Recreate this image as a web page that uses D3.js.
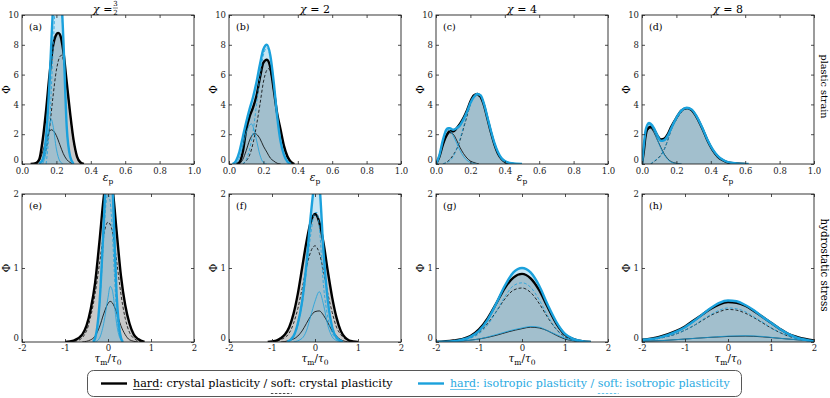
<!DOCTYPE html>
<html lang="en">
<head>
<meta charset="UTF-8">
<title></title>
<script src="https://d3js.org/d3.v7.min.js"></script>
<style>
body { margin: 0; background: #fff; }
text { font-family: "DejaVu Serif", serif; }
</style>
</head>
<body>
<script>

var W = 830, H = 398;
var blue = "#1ba1dc";
var lightBlueText = "#2aaae2";

// column titles (chi values) and panel tags
var chiLabels = ["3/2", "2", "4", "8"];
var tags = ["(a)", "(b)", "(c)", "(d)", "(e)", "(f)", "(g)", "(h)"];
var rowLabels = ["plastic strain", "hydrostatic stress"];

// ticks
var strainXTicks = [0, 0.2, 0.4, 0.6, 0.8, 1.0];
var strainYTicks = [0, 2, 4, 6, 8, 10];
var stressXTicks = [-2, -1, 0, 1, 2];
var stressYTicks = [0, 1, 2];

// ---- plastic strain distributions [eps_p, Phi] ----
// (a) chi = 3/2
var aCpAll   = [[0.05,0],[0.08,0.05],[0.10,0.3],[0.12,1.6],[0.14,3.6],[0.16,6.0],[0.18,7.9],[0.20,8.7],[0.21,8.8],[0.22,8.7],[0.24,7.6],[0.26,5.5],[0.28,3.4],[0.30,1.6],[0.32,0.5],[0.34,0.1],[0.36,0]];
var aCpHard  = [[0.08,0],[0.10,0.2],[0.12,0.8],[0.14,1.6],[0.16,2.2],[0.17,2.3],[0.18,2.25],[0.20,1.9],[0.22,1.3],[0.24,0.7],[0.26,0.3],[0.28,0.1],[0.30,0]];
var aCpSoft  = [[0.10,0],[0.12,0.3],[0.14,1.0],[0.16,2.4],[0.18,4.5],[0.20,6.3],[0.22,7.2],[0.23,7.3],[0.24,7.0],[0.26,5.3],[0.28,3.3],[0.30,1.5],[0.32,0.5],[0.34,0.1],[0.36,0]];
var aIsoAll  = [[0.10,0],[0.12,0.3],[0.14,1.8],[0.16,5.5],[0.18,10.5],[0.20,13.5],[0.21,13.8],[0.22,13],[0.24,8.5],[0.26,2.5],[0.28,0.5],[0.30,0]];
var aIsoHard = [[0.12,0],[0.14,0.8],[0.16,2.6],[0.17,3.0],[0.18,2.6],[0.20,1.0],[0.22,0.2],[0.24,0]];
var aIsoSoft = [[0.14,0],[0.16,2.5],[0.18,7.5],[0.20,12],[0.21,12.5],[0.22,12],[0.24,8.3],[0.26,2.5],[0.28,0.5],[0.30,0]];
// (b) chi = 2
var bCpAll   = [[0.04,0],[0.06,0.1],[0.08,0.8],[0.10,2.3],[0.12,3.2],[0.14,3.8],[0.16,4.6],[0.18,5.8],[0.20,6.8],[0.22,7.0],[0.24,6.5],[0.26,5.0],[0.28,3.4],[0.30,2.3],[0.32,1.2],[0.34,0.5],[0.36,0.15],[0.38,0]];
var bCpHard  = [[0.06,0],[0.08,0.3],[0.10,0.9],[0.12,1.6],[0.14,2.0],[0.15,2.05],[0.16,2.0],[0.18,1.7],[0.20,1.2],[0.22,0.8],[0.24,0.4],[0.26,0.2],[0.28,0.05],[0.30,0]];
var bCpSoft  = [[0.08,0],[0.10,0.2],[0.12,0.6],[0.14,1.4],[0.16,2.6],[0.18,4.0],[0.20,5.5],[0.22,6.3],[0.23,6.4],[0.24,6.2],[0.26,4.9],[0.28,3.3],[0.30,2.1],[0.32,1.1],[0.34,0.4],[0.36,0.1],[0.38,0]];
var bIsoAll  = [[0.02,0],[0.04,0.2],[0.06,0.8],[0.08,1.8],[0.10,2.8],[0.12,3.7],[0.14,4.5],[0.16,5.5],[0.18,6.7],[0.20,7.7],[0.22,8.0],[0.24,7.3],[0.26,5.5],[0.28,3.2],[0.30,1.5],[0.32,0.6],[0.34,0.15],[0.36,0]];
var bIsoHard = [[0.04,0],[0.06,0.4],[0.08,1.2],[0.10,2.1],[0.12,2.6],[0.13,2.7],[0.14,2.5],[0.16,1.6],[0.18,0.6],[0.20,0.1],[0.22,0]];
var bIsoSoft = [[0.08,0],[0.10,0.3],[0.12,1.0],[0.14,2.2],[0.16,4.0],[0.18,5.9],[0.20,7.3],[0.22,7.8],[0.24,7.2],[0.26,5.5],[0.28,3.2],[0.30,1.5],[0.32,0.6],[0.34,0.15],[0.36,0]];
// (c) chi = 4
var cCpAll   = [[0.00,0],[0.02,0.5],[0.04,1.3],[0.06,1.9],[0.08,2.2],[0.10,2.2],[0.12,2.4],[0.14,2.7],[0.16,3.1],[0.18,3.6],[0.20,4.2],[0.22,4.6],[0.24,4.7],[0.26,4.5],[0.28,3.9],[0.30,3.0],[0.32,2.1],[0.34,1.3],[0.36,0.7],[0.38,0.35],[0.40,0.15],[0.42,0.05],[0.45,0]];
var cCpHard  = [[0.00,0],[0.02,0.5],[0.04,1.3],[0.06,1.8],[0.08,2.1],[0.10,2.0],[0.12,1.6],[0.14,1.1],[0.16,0.7],[0.18,0.4],[0.20,0.2],[0.22,0.1],[0.25,0]];
var cCpSoft  = [[0.04,0],[0.06,0.1],[0.08,0.3],[0.10,0.6],[0.12,1.0],[0.14,1.6],[0.16,2.4],[0.18,3.2],[0.20,4.0],[0.22,4.5],[0.24,4.6],[0.26,4.4],[0.28,3.9],[0.30,3.0],[0.32,2.1],[0.34,1.3],[0.36,0.7],[0.38,0.35],[0.40,0.15],[0.42,0.05],[0.45,0]];
var cIsoAll  = [[0.00,0],[0.02,0.6],[0.04,1.6],[0.06,2.3],[0.07,2.4],[0.08,2.4],[0.10,2.3],[0.12,2.4],[0.14,2.6],[0.16,3.0],[0.18,3.5],[0.20,4.1],[0.22,4.5],[0.24,4.7],[0.26,4.6],[0.28,4.0],[0.30,3.1],[0.32,2.2],[0.34,1.4],[0.36,0.8],[0.38,0.4],[0.40,0.2],[0.44,0.05],[0.50,0]];
var cIsoHard = [[0.00,0],[0.02,0.6],[0.04,1.6],[0.06,2.2],[0.07,2.3],[0.08,2.25],[0.10,1.9],[0.12,1.4],[0.14,0.9],[0.16,0.5],[0.18,0.25],[0.20,0.1],[0.24,0]];
var cIsoSoft = [[0.04,0],[0.06,0.1],[0.08,0.2],[0.10,0.5],[0.12,1.0],[0.14,1.7],[0.16,2.5],[0.18,3.3],[0.20,4.0],[0.22,4.5],[0.24,4.7],[0.26,4.6],[0.28,4.0],[0.30,3.1],[0.32,2.2],[0.34,1.4],[0.36,0.8],[0.38,0.4],[0.40,0.2],[0.44,0.05],[0.50,0]];
// (d) chi = 8
var dCpAll   = [[0.00,0],[0.01,0.8],[0.02,1.8],[0.03,2.3],[0.05,2.5],[0.07,2.3],[0.09,1.9],[0.11,1.65],[0.13,1.7],[0.15,2.0],[0.17,2.5],[0.20,3.1],[0.23,3.6],[0.26,3.75],[0.29,3.6],[0.32,3.1],[0.35,2.4],[0.38,1.6],[0.41,0.95],[0.44,0.5],[0.47,0.25],[0.50,0.1],[0.55,0.03],[0.60,0]];
var dCpHard  = [[0.00,0],[0.01,0.8],[0.02,1.8],[0.03,2.25],[0.05,2.4],[0.07,2.1],[0.09,1.6],[0.11,1.1],[0.13,0.65],[0.15,0.35],[0.17,0.15],[0.20,0.05],[0.23,0]];
var dCpSoft  = [[0.05,0],[0.07,0.15],[0.09,0.35],[0.11,0.6],[0.13,1.0],[0.15,1.6],[0.17,2.3],[0.20,3.0],[0.23,3.5],[0.26,3.7],[0.29,3.6],[0.32,3.1],[0.35,2.4],[0.38,1.6],[0.41,0.95],[0.44,0.5],[0.47,0.25],[0.50,0.1],[0.55,0.03],[0.60,0]];
var dIsoAll  = [[0.00,0],[0.01,1.2],[0.02,2.2],[0.03,2.6],[0.04,2.75],[0.05,2.7],[0.07,2.4],[0.09,1.9],[0.11,1.55],[0.13,1.6],[0.15,1.9],[0.17,2.4],[0.20,3.1],[0.23,3.6],[0.26,3.78],[0.29,3.65],[0.32,3.15],[0.35,2.45],[0.38,1.65],[0.41,1.0],[0.44,0.55],[0.47,0.28],[0.50,0.12],[0.55,0.04],[0.62,0]];
var dIsoHard = [[0.00,0],[0.01,1.2],[0.02,2.2],[0.03,2.55],[0.04,2.65],[0.05,2.6],[0.07,2.2],[0.09,1.6],[0.11,1.05],[0.13,0.6],[0.15,0.3],[0.17,0.12],[0.20,0.03],[0.23,0]];
var dIsoSoft = [[0.05,0],[0.07,0.2],[0.09,0.35],[0.11,0.55],[0.13,1.0],[0.15,1.6],[0.17,2.3],[0.20,3.05],[0.23,3.55],[0.26,3.75],[0.29,3.65],[0.32,3.15],[0.35,2.45],[0.38,1.65],[0.41,1.0],[0.44,0.55],[0.47,0.28],[0.50,0.12],[0.55,0.04],[0.62,0]];

// ---- hydrostatic stress distributions [tau_m/tau_0, Phi] ----
// (e) chi = 3/2
var eCpAll   = [[-1.0,0],[-0.8,0.02],[-0.6,0.1],[-0.5,0.22],[-0.4,0.45],[-0.3,0.8],[-0.2,1.35],[-0.1,1.95],[0.0,2.3],[0.1,2.1],[0.2,1.5],[0.3,0.9],[0.4,0.5],[0.5,0.25],[0.6,0.1],[0.7,0.04],[0.85,0]];
var eCpHard  = [[-0.6,0],[-0.4,0.03],[-0.3,0.08],[-0.2,0.2],[-0.1,0.38],[0.0,0.52],[0.05,0.55],[0.1,0.53],[0.2,0.4],[0.3,0.22],[0.4,0.1],[0.5,0.03],[0.7,0]];
var eCpSoft  = [[-0.9,0],[-0.7,0.02],[-0.5,0.15],[-0.4,0.35],[-0.3,0.65],[-0.2,1.05],[-0.1,1.45],[0.0,1.62],[0.1,1.5],[0.2,1.1],[0.3,0.65],[0.4,0.32],[0.5,0.13],[0.6,0.05],[0.8,0]];
var eIsoAll  = [[-0.35,0],[-0.3,0.05],[-0.25,0.2],[-0.2,0.5],[-0.15,1.0],[-0.1,1.6],[-0.05,2.2],[0.0,2.55],[0.05,2.6],[0.1,2.2],[0.15,1.4],[0.2,0.65],[0.25,0.25],[0.3,0.06],[0.35,0]];
var eIsoHard = [[-0.3,0],[-0.2,0.05],[-0.1,0.25],[0.0,0.6],[0.05,0.75],[0.1,0.7],[0.15,0.5],[0.2,0.25],[0.25,0.1],[0.3,0.03],[0.35,0]];
var eIsoSoft = [[-0.35,0],[-0.3,0.05],[-0.25,0.2],[-0.2,0.45],[-0.15,0.9],[-0.1,1.4],[-0.05,1.85],[0.0,2.0],[0.05,1.9],[0.1,1.5],[0.15,0.9],[0.2,0.4],[0.25,0.15],[0.3,0.03],[0.35,0]];
// (f) chi = 2
var fCpAll   = [[-1.1,0],[-0.9,0.02],[-0.8,0.05],[-0.7,0.1],[-0.6,0.2],[-0.5,0.38],[-0.4,0.65],[-0.3,1.0],[-0.2,1.35],[-0.1,1.62],[0.0,1.73],[0.1,1.62],[0.2,1.33],[0.3,0.95],[0.4,0.6],[0.5,0.33],[0.6,0.15],[0.7,0.06],[0.8,0.02],[1.0,0]];
var fCpHard  = [[-0.8,0],[-0.6,0.02],[-0.4,0.08],[-0.3,0.15],[-0.2,0.25],[-0.1,0.35],[0.0,0.41],[0.1,0.42],[0.2,0.36],[0.3,0.26],[0.4,0.15],[0.5,0.08],[0.6,0.03],[0.8,0]];
var fCpSoft  = [[-1.0,0],[-0.8,0.03],[-0.6,0.12],[-0.5,0.25],[-0.4,0.45],[-0.3,0.72],[-0.2,1.0],[-0.1,1.22],[0.0,1.3],[0.1,1.2],[0.2,0.95],[0.3,0.65],[0.4,0.4],[0.5,0.2],[0.6,0.1],[0.8,0.02],[1.0,0]];
var fIsoAll  = [[-0.65,0],[-0.5,0.08],[-0.4,0.25],[-0.3,0.55],[-0.2,1.05],[-0.1,1.7],[0.0,2.2],[0.05,2.3],[0.1,2.15],[0.2,1.2],[0.3,0.55],[0.4,0.2],[0.5,0.06],[0.65,0]];
var fIsoHard = [[-0.5,0],[-0.3,0.05],[-0.2,0.15],[-0.1,0.35],[0.0,0.55],[0.1,0.68],[0.2,0.5],[0.3,0.22],[0.4,0.07],[0.5,0.02],[0.6,0]];
var fIsoSoft = [[-0.65,0],[-0.5,0.07],[-0.4,0.22],[-0.3,0.5],[-0.2,0.95],[-0.1,1.45],[0.0,1.75],[0.05,1.75],[0.1,1.55],[0.2,0.75],[0.3,0.33],[0.4,0.12],[0.5,0.04],[0.65,0]];
// (g) chi = 4
var gCpAll   = [[-2.0,0],[-1.6,0.02],[-1.4,0.04],[-1.2,0.08],[-1.0,0.17],[-0.8,0.32],[-0.6,0.52],[-0.4,0.73],[-0.2,0.87],[0.0,0.92],[0.2,0.86],[0.4,0.7],[0.6,0.47],[0.8,0.25],[1.0,0.1],[1.2,0.04],[1.4,0.01],[1.6,0]];
var gCpHard  = [[-2.0,0],[-1.5,0.01],[-1.0,0.04],[-0.6,0.09],[-0.3,0.14],[0.0,0.18],[0.2,0.2],[0.4,0.19],[0.6,0.15],[0.8,0.09],[1.0,0.04],[1.2,0.015],[1.5,0]];
var gCpSoft  = [[-2.0,0],[-1.6,0.01],[-1.4,0.03],[-1.2,0.06],[-1.0,0.13],[-0.8,0.25],[-0.6,0.41],[-0.4,0.58],[-0.2,0.7],[0.0,0.73],[0.2,0.67],[0.4,0.52],[0.6,0.33],[0.8,0.17],[1.0,0.07],[1.2,0.02],[1.4,0]];
var gIsoAll  = [[-2.0,0],[-1.6,0.01],[-1.4,0.03],[-1.2,0.07],[-1.0,0.15],[-0.8,0.3],[-0.6,0.52],[-0.4,0.76],[-0.2,0.94],[0.0,1.0],[0.2,0.94],[0.4,0.76],[0.6,0.5],[0.8,0.27],[1.0,0.11],[1.2,0.04],[1.4,0.01],[1.6,0]];
var gIsoHard = [[-2.0,0],[-1.5,0.01],[-1.0,0.04],[-0.6,0.1],[-0.3,0.15],[0.0,0.19],[0.2,0.21],[0.4,0.2],[0.6,0.15],[0.8,0.1],[1.0,0.05],[1.2,0.02],[1.5,0]];
var gIsoSoft = [[-2.0,0],[-1.6,0.01],[-1.4,0.02],[-1.2,0.05],[-1.0,0.11],[-0.8,0.23],[-0.6,0.41],[-0.4,0.61],[-0.2,0.76],[0.0,0.8],[0.2,0.74],[0.4,0.57],[0.6,0.35],[0.8,0.17],[1.0,0.06],[1.2,0.02],[1.4,0]];
// (h) chi = 8
var hCpAll   = [[-2.0,0.03],[-1.6,0.07],[-1.2,0.15],[-1.0,0.21],[-0.8,0.29],[-0.6,0.37],[-0.4,0.45],[-0.2,0.51],[0.0,0.54],[0.2,0.53],[0.4,0.49],[0.6,0.42],[0.8,0.34],[1.0,0.26],[1.2,0.18],[1.4,0.11],[1.6,0.07],[1.8,0.04],[2.0,0.02]];
var hCpHard  = [[-2.0,0.01],[-1.5,0.02],[-1.0,0.04],[-0.5,0.06],[0.0,0.075],[0.4,0.08],[0.8,0.07],[1.2,0.05],[1.6,0.03],[2.0,0.01]];
var hCpSoft  = [[-2.0,0.02],[-1.6,0.05],[-1.2,0.11],[-1.0,0.16],[-0.8,0.22],[-0.6,0.29],[-0.4,0.36],[-0.2,0.41],[0.0,0.44],[0.2,0.43],[0.4,0.39],[0.6,0.33],[0.8,0.26],[1.0,0.19],[1.2,0.13],[1.4,0.08],[1.6,0.05],[1.8,0.03],[2.0,0.01]];
var hIsoAll  = [[-2.0,0.03],[-1.6,0.06],[-1.2,0.14],[-1.0,0.2],[-0.8,0.28],[-0.6,0.37],[-0.4,0.46],[-0.2,0.53],[0.0,0.56],[0.2,0.55],[0.4,0.5],[0.6,0.43],[0.8,0.34],[1.0,0.26],[1.2,0.18],[1.4,0.11],[1.6,0.06],[1.8,0.03],[2.0,0.01]];
var hIsoHard = [[-2.0,0.01],[-1.5,0.02],[-1.0,0.04],[-0.5,0.06],[0.0,0.08],[0.4,0.085],[0.8,0.075],[1.2,0.05],[1.6,0.03],[2.0,0.01]];
var hIsoSoft = [[-2.0,0.02],[-1.6,0.05],[-1.2,0.11],[-1.0,0.16],[-0.8,0.22],[-0.6,0.3],[-0.4,0.37],[-0.2,0.43],[0.0,0.46],[0.2,0.45],[0.4,0.41],[0.6,0.34],[0.8,0.27],[1.0,0.19],[1.2,0.13],[1.4,0.08],[1.6,0.04],[1.8,0.02],[2.0,0.01]];

var panels = [
    [aCpAll, aCpHard, aCpSoft, aIsoAll, aIsoHard, aIsoSoft],
    [bCpAll, bCpHard, bCpSoft, bIsoAll, bIsoHard, bIsoSoft],
    [cCpAll, cCpHard, cCpSoft, cIsoAll, cIsoHard, cIsoSoft],
    [dCpAll, dCpHard, dCpSoft, dIsoAll, dIsoHard, dIsoSoft],
    [eCpAll, eCpHard, eCpSoft, eIsoAll, eIsoHard, eIsoSoft],
    [fCpAll, fCpHard, fCpSoft, fIsoAll, fIsoHard, fIsoSoft],
    [gCpAll, gCpHard, gCpSoft, gIsoAll, gIsoHard, gIsoSoft],
    [hCpAll, hCpHard, hCpSoft, hIsoAll, hIsoHard, hIsoSoft]
];

var colLeft = [22, 229, 436, 642];
var pw = 172;
var rows = [
    {top: 15, bot: 164, xd: [0, 1], yd: [0, 10], xt: strainXTicks, yt: strainYTicks, xfmt: d3.format(".1f"), yfmt: d3.format("d"), xlab: 181, pad: 4},
    {top: 194, bot: 342, xd: [-2, 2], yd: [0, 2], xt: stressXTicks, yt: stressYTicks, xfmt: function(d) { return String(d); }, yfmt: d3.format("d"), xlab: 362, pad: 3}
];

// shrink/grow a text so it spans the given width
function fitWidth(sel, target) {
    var w = sel.node().getComputedTextLength();
    sel.attr("font-size", +sel.attr("font-size") * target / w);
}

var svg = d3.select("body").append("svg")
    .attr("width", W)
    .attr("height", H);

var defs = svg.append("defs");

panels.forEach(function(p, i) {
    var r = rows[Math.floor(i / 4)], c = i % 4;
    var x0 = colLeft[c], x1 = colLeft[c] + pw;
    var x = d3.scaleLinear().domain(r.xd).range([x0, x1]);
    var y = d3.scaleLinear().domain(r.yd).range([r.bot, r.top]);

    defs.append("clipPath").attr("id", "clip" + i)
        .append("rect").attr("x", x0).attr("y", r.top).attr("width", pw).attr("height", r.bot - r.top);

    var g = svg.append("g");
    var plot = g.append("g").attr("clip-path", "url(#clip" + i + ")");

    var area = d3.area().x(function(d) { return x(d[0]); }).y0(y(0)).y1(function(d) { return y(d[1]); }).curve(d3.curveMonotoneX);
    var line = d3.line().x(function(d) { return x(d[0]); }).y(function(d) { return y(d[1]); }).curve(d3.curveMonotoneX);

    plot.append("path").datum(p[0]).attr("d", area).attr("fill", "#000").attr("fill-opacity", 0.21);
    plot.append("path").datum(p[3]).attr("d", area).attr("fill", "#48a8d8").attr("fill-opacity", 0.3);

    plot.append("path").datum(p[0]).attr("d", line).attr("fill", "none").attr("stroke", "#000").attr("stroke-width", 2.4);
    plot.append("path").datum(p[1]).attr("d", line).attr("fill", "none").attr("stroke", "#000").attr("stroke-width", 0.8);
    plot.append("path").datum(p[2]).attr("d", line).attr("fill", "none").attr("stroke", "#000").attr("stroke-width", 0.8).attr("stroke-dasharray", "3,2");
    plot.append("path").datum(p[3]).attr("d", line).attr("fill", "none").attr("stroke", blue).attr("stroke-width", 2.4);
    plot.append("path").datum(p[4]).attr("d", line).attr("fill", "none").attr("stroke", blue).attr("stroke-width", 0.8);
    plot.append("path").datum(p[5]).attr("d", line).attr("fill", "none").attr("stroke", blue).attr("stroke-width", 0.8).attr("stroke-dasharray", "3,2");

    // axes, ticks pointing inward on all four sides
    g.append("g").attr("transform", "translate(0," + r.bot + ")")
        .call(d3.axisBottom(x).tickValues(r.xt).tickFormat(r.xfmt).tickSize(-3).tickPadding(r.pad));
    var axL = g.append("g").attr("transform", "translate(" + x0 + ",0)")
        .call(d3.axisLeft(y).tickValues(r.yt).tickFormat(r.yfmt).tickSize(-3).tickPadding(3));
    g.append("g").attr("transform", "translate(0," + r.top + ")")
        .call(d3.axisTop(x).tickValues(r.xt).tickFormat("").tickSize(-3));
    g.append("g").attr("transform", "translate(" + x1 + ",0)")
        .call(d3.axisRight(y).tickValues(r.yt).tickFormat("").tickSize(-3));

    g.selectAll(".domain").remove();
    g.selectAll(".tick line").attr("stroke", "#222").attr("stroke-width", 0.8);
    g.selectAll(".tick text").attr("font-family", "DejaVu Serif").attr("font-size", 8.5).attr("fill", "#222");
    axL.selectAll(".tick text").filter(function(d) { return d === 0; }).attr("dy", "-0.15em");

    g.append("rect").attr("x", x0).attr("y", r.top).attr("width", pw).attr("height", r.bot - r.top)
        .attr("fill", "none").attr("stroke", "#222").attr("stroke-width", 0.9);

    // panel tag
    g.append("text").attr("x", x0 + 7).attr("y", r.top + 15).attr("font-size", 9.5).text(tags[i]);

    // y label
    g.append("text").attr("transform", "translate(" + (x0 - 12) + "," + ((r.top + r.bot) / 2) + ") rotate(-90)")
        .attr("text-anchor", "middle").attr("font-size", 10.5).text("Φ");

    // x label
    var xl = g.append("text").attr("x", (x0 + x1) / 2).attr("y", r.xlab).attr("text-anchor", "middle").attr("font-size", 10.5);
    if (i < 4) {
        xl.append("tspan").attr("font-style", "italic").text("ε");
        xl.append("tspan").attr("font-size", 7.5).attr("dy", 2.5).text("p");
    } else {
        xl.append("tspan").attr("font-style", "italic").text("τ");
        xl.append("tspan").attr("font-size", 7.5).attr("dy", 2.5).text("m");
        xl.append("tspan").attr("dy", -2.5).text("/");
        xl.append("tspan").attr("font-style", "italic").text("τ");
        xl.append("tspan").attr("font-size", 7.5).attr("dy", 2.5).text("0");
    }

    // column titles
    if (i < 4) {
        var cx = (x0 + x1) / 2;
        var t = g.append("text").attr("y", 13).attr("font-size", 11);
        t.append("tspan").attr("font-style", "italic").text("χ");
        t.append("tspan").text(" = ");
        var lab = chiLabels[c];
        if (lab.indexOf("/") > 0) {
            var parts = lab.split("/");
            t.attr("x", cx - 15);
            var fx = cx - 15 + t.node().getComputedTextLength() + 3;
            g.append("text").attr("x", fx).attr("y", 6).attr("text-anchor", "middle").attr("font-size", 7).text(parts[0]);
            g.append("line").attr("x1", fx - 2.5).attr("x2", fx + 2.5).attr("y1", 8).attr("y2", 8).attr("stroke", "#000").attr("stroke-width", 0.5);
            g.append("text").attr("x", fx).attr("y", 14.5).attr("text-anchor", "middle").attr("font-size", 7).text(parts[1]);
        } else {
            t.attr("x", cx).attr("text-anchor", "middle");
            t.append("tspan").text(lab);
        }
    }
});

// row labels on the right
var rowLabelLen = [64, 93];
rowLabels.forEach(function(l, k) {
    var r = rows[k];
    var t = svg.append("text")
        .attr("transform", "translate(821," + ((r.top + r.bot) / 2 - 3) + ") rotate(90)")
        .attr("text-anchor", "middle").attr("font-size", 11).text(l);
    fitWidth(t, rowLabelLen[k]);
});

// legend
var legend = svg.append("g");
legend.append("rect").attr("x", 87.5).attr("y", 370.5).attr("width", 654).attr("height", 26)
    .attr("rx", 6).attr("fill", "#fff").attr("stroke", "#444").attr("stroke-width", 0.9);

var legendItems = [
    {x: 101, color: "#000", textColor: "#000", text: "crystal plasticity", width: 260},
    {x: 418, color: blue, textColor: lightBlueText, text: "isotropic plasticity", width: 280}
];
legendItems.forEach(function(it) {
    legend.append("line").attr("x1", it.x).attr("x2", it.x + 26).attr("y1", 383.5).attr("y2", 383.5)
        .attr("stroke", it.color).attr("stroke-width", 2.4);
    var full = "hard: " + it.text + " / soft: " + it.text;
    var tx = legend.append("text").attr("x", it.x + 32).attr("y", 386.5).attr("font-size", 10)
        .attr("fill", it.textColor).text(full);
    fitWidth(tx, it.width);
    var node = tx.node();
    var hs = node.getSubStringLength(0, 4);
    var softStart = full.indexOf("soft");
    var ss = node.getSubStringLength(0, softStart);
    var sw = node.getSubStringLength(softStart, 4);
    legend.append("line").attr("x1", it.x + 32).attr("x2", it.x + 32 + hs).attr("y1", 389.5).attr("y2", 389.5)
        .attr("stroke", it.textColor).attr("stroke-width", 0.7);
    legend.append("line").attr("x1", it.x + 32 + ss).attr("x2", it.x + 32 + ss + sw).attr("y1", 393.5).attr("y2", 393.5)
        .attr("stroke", it.textColor).attr("stroke-width", 0.7).attr("stroke-dasharray", "2.5,1.5");
});

</script>
</body>
</html>
